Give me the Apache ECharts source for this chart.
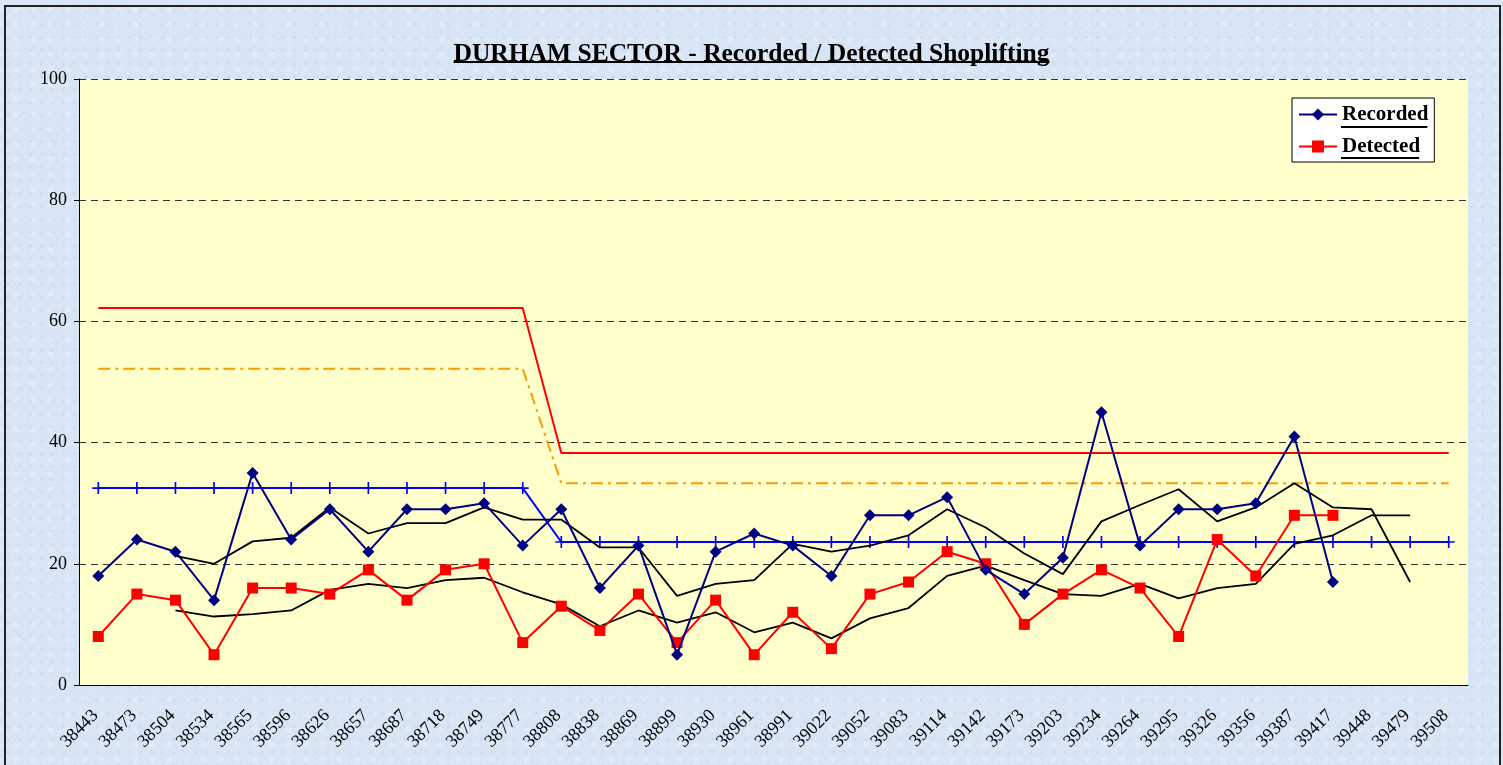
<!DOCTYPE html>
<html>
<head>
<meta charset="utf-8">
<title>DURHAM SECTOR - Recorded / Detected Shoplifting</title>
<script src="https://cdn.jsdelivr.net/npm/echarts@6/dist/echarts.min.js"></script>
<style>
  html, body {
    margin: 0;
    padding: 0;
    width: 1503px;
    height: 765px;
    overflow: hidden;
  }
  /* textured light-blue backdrop, roughly like the Excel fill */
  .backdrop {
    position: absolute;
    left: 0;
    top: 0;
    width: 1503px;
    height: 765px;
    background-color: #d8e5f4;
    background-image:
      radial-gradient(rgba(255, 255, 255, 0.3) 18%, transparent 19%),
      radial-gradient(rgba(175, 198, 228, 0.25) 20%, transparent 21%),
      radial-gradient(rgba(255, 255, 255, 0.22) 25%, transparent 26%);
    background-size: 7px 7px, 11px 13px, 17px 15px;
    background-position: 0 0, 3px 5px, 8px 2px;
  }
  .frame {
    position: absolute;
    left: 4px;
    top: 5px;
    width: 1493px;
    height: 800px;
    border: 2px solid #222;
  }
  #chart {
    position: absolute;
    left: 0;
    top: 0;
    width: 1503px;
    height: 765px;
  }
</style>
</head>
<body>
<div class="backdrop"></div>
<div class="frame"></div>
<div id="chart"></div>
<script>
// x categories (Excel date serials, shown as plain numbers)
const months = [
  '38443', '38473', '38504', '38534', '38565', '38596', '38626', '38657', '38687',
  '38718', '38749', '38777', '38808', '38838', '38869', '38899', '38930', '38961',
  '38991', '39022', '39052', '39083', '39114', '39142', '39173', '39203', '39234',
  '39264', '39295', '39326', '39356', '39387', '39417', '39448', '39479', '39508'
];

// monthly counts
const recorded = [18, 24, 22, 14, 35, 24, 29, 22, 29, 29, 30, 23, 29, 16, 23, 5, 22, 25,
  23, 18, 28, 28, 31, 19, 15, 21, 45, 23, 29, 29, 30, 41, 17];
const detected = [8, 15, 14, 5, 16, 16, 15, 19, 14, 19, 20, 7, 13, 9, 15, 7, 14, 5,
  12, 6, 15, 17, 22, 20, 10, 15, 19, 16, 8, 24, 18, 28, 28];

// black trend lines (start at 3rd month)
const recordedTrend = [null, null, 21.3, 20, 23.7, 24.3, 29.3, 25, 26.7, 26.7, 29.3, 27.3,
  27.3, 22.7, 22.7, 14.7, 16.7, 17.3, 23.3, 22, 23, 24.7, 29, 26, 21.7, 18.3, 27, 29.7,
  32.3, 27, 29.3, 33.3, 29.3, 29, 17];
const detectedTrend = [null, null, 12.3, 11.3, 11.7, 12.3, 15.7, 16.7, 16, 17.3, 17.7, 15.3,
  13.3, 9.7, 12.3, 10.3, 12, 8.7, 10.3, 7.7, 11, 12.7, 18, 19.7, 17.3, 15, 14.7, 16.7,
  14.3, 16, 16.7, 23.3, 24.7, 28, 28];

// control lines: 12 months before the step, 24 after
const meanLine = [32.5, 32.5, 32.5, 32.5, 32.5, 32.5, 32.5, 32.5, 32.5, 32.5, 32.5, 32.5,
  23.6, 23.6, 23.6, 23.6, 23.6, 23.6, 23.6, 23.6, 23.6, 23.6, 23.6, 23.6,
  23.6, 23.6, 23.6, 23.6, 23.6, 23.6, 23.6, 23.6, 23.6, 23.6, 23.6, 23.6];
const upperLimit = [62.2, 62.2, 62.2, 62.2, 62.2, 62.2, 62.2, 62.2, 62.2, 62.2, 62.2, 62.2,
  38.3, 38.3, 38.3, 38.3, 38.3, 38.3, 38.3, 38.3, 38.3, 38.3, 38.3, 38.3,
  38.3, 38.3, 38.3, 38.3, 38.3, 38.3, 38.3, 38.3, 38.3, 38.3, 38.3, 38.3];
const warnLimit = [52.2, 52.2, 52.2, 52.2, 52.2, 52.2, 52.2, 52.2, 52.2, 52.2, 52.2, 52.2,
  33.3, 33.3, 33.3, 33.3, 33.3, 33.3, 33.3, 33.3, 33.3, 33.3, 33.3, 33.3,
  33.3, 33.3, 33.3, 33.3, 33.3, 33.3, 33.3, 33.3, 33.3, 33.3, 33.3, 33.3];

const yTicks = [0, 20, 40, 60, 80, 100];

const titleText = 'DURHAM SECTOR - Recorded / Detected Shoplifting';
const FONT = '"Liberation Serif", "Times New Roman", serif';

// measure text so the underlines fit the words
function textWidth(str, size) {
  const c = document.createElement('canvas').getContext('2d');
  c.font = 'bold ' + size + 'px ' + FONT;
  return c.measureText(str).width;
}

const plusSymbol = 'path://M4.3,0h1.4v10h-1.4z M0,4.3h10v1.4h-10z';

const myChart = echarts.init(document.getElementById('chart'), null, { renderer: 'canvas' });

const titleSize = 25.5;
const legendSize = 21;
const titleW = textWidth(titleText, titleSize);
const legendTextX = 1292 + 6 + 38 + 5;

const option = {
  animation: false,
  backgroundColor: 'transparent',
  title: {
    text: titleText,
    left: 'center',
    top: 36,
    textStyle: {
      fontFamily: FONT,
      fontSize: titleSize,
      fontWeight: 'bold',
      color: '#000'
    }
  },
  legend: {
    data: ['Recorded', 'Detected'],
    orient: 'vertical',
    left: 1292,
    top: 98,
    padding: [6, 6, 5, 6],
    itemWidth: 38,
    itemHeight: 15,
    itemGap: 11,
    backgroundColor: '#fff',
    borderColor: '#000',
    borderWidth: 1,
    textStyle: {
      fontFamily: FONT,
      fontSize: legendSize,
      fontWeight: 'bold',
      color: '#000'
    }
  },
  grid: {
    left: 79,
    right: 35,
    top: 79,
    bottom: 80,
    show: true,
    backgroundColor: '#ffffcc',
    borderWidth: 0,
    outerBoundsMode: 'none'
  },
  xAxis: {
    type: 'category',
    data: months,
    boundaryGap: true,
    axisLine: { lineStyle: { color: '#000', width: 1 } },
    axisTick: { interval: 0, length: 5, lineStyle: { color: '#000' } },
    axisLabel: {
      interval: 0,
      rotate: 45,
      margin: 25,
      padding: [0, 4, 0, 0],
      fontFamily: FONT,
      fontSize: 18,
      color: '#000'
    },
    splitLine: { show: false }
  },
  yAxis: {
    type: 'value',
    min: yTicks[0],
    max: yTicks[yTicks.length - 1],
    interval: 20,
    axisLine: { show: true, lineStyle: { color: '#000', width: 1 } },
    axisTick: { show: true, length: 5, lineStyle: { color: '#000' } },
    axisLabel: {
      margin: 12,
      fontFamily: FONT,
      fontSize: 18,
      color: '#000'
    },
    splitLine: {
      show: true,
      lineStyle: { color: '#333', type: [7, 5], width: 1 }
    }
  },
  series: [
    {
      name: 'Upper limit',
      type: 'line',
      data: upperLimit,
      symbol: 'none',
      lineStyle: { color: '#ff0000', width: 2 },
      z: 2
    },
    {
      name: 'Warning limit',
      type: 'line',
      data: warnLimit,
      symbol: 'none',
      lineStyle: { color: '#ff9900', width: 2, type: [12, 5, 3, 5] },
      z: 2
    },
    {
      name: 'Mean',
      type: 'line',
      data: meanLine,
      symbol: plusSymbol,
      symbolSize: 12,
      showSymbol: true,
      itemStyle: { color: '#0000ff' },
      lineStyle: { color: '#0000ff', width: 2 },
      z: 3
    },
    {
      name: 'Recorded trend',
      type: 'line',
      data: recordedTrend,
      symbol: 'none',
      lineStyle: { color: '#000', width: 1.8 },
      z: 4
    },
    {
      name: 'Detected trend',
      type: 'line',
      data: detectedTrend,
      symbol: 'none',
      lineStyle: { color: '#000', width: 1.8 },
      z: 4
    },
    {
      name: 'Detected',
      type: 'line',
      data: detected,
      symbol: 'rect',
      symbolSize: 11,
      itemStyle: { color: '#ff0000' },
      lineStyle: { color: '#ff0000', width: 2 },
      z: 5
    },
    {
      name: 'Recorded',
      type: 'line',
      data: recorded,
      symbol: 'diamond',
      symbolSize: 12,
      itemStyle: { color: '#000080' },
      lineStyle: { color: '#000080', width: 2 },
      z: 6
    }
  ],
  graphic: [
    // underline for title
    {
      type: 'rect',
      shape: { x: 751.5 - titleW / 2, y: 61, width: titleW, height: 2 },
      style: { fill: '#000' },
      z: 10
    },
    // underlines for legend words
    {
      type: 'rect',
      shape: { x: legendTextX, y: 126, width: textWidth('Recorded', legendSize), height: 2 },
      style: { fill: '#000' },
      z: 10
    },
    {
      type: 'rect',
      shape: { x: legendTextX, y: 157, width: textWidth('Detected', legendSize), height: 2 },
      style: { fill: '#000' },
      z: 10
    }
  ]
};

myChart.setOption(option);

window.addEventListener('resize', () => {
  myChart.resize();
});
</script>
</body>
</html>
